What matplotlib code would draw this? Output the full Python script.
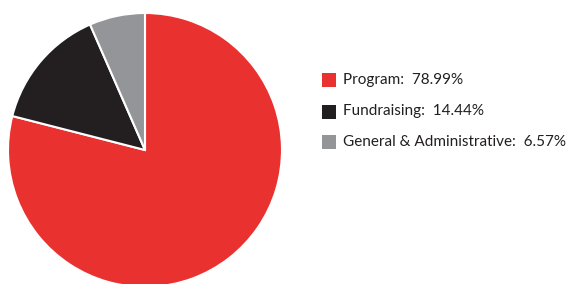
import matplotlib.pyplot as plt
from matplotlib.patches import Rectangle

# Data
labels = ['Program', 'Fundraising', 'General & Administrative']
values = [78.99, 14.44, 6.57]
colors = ['#E93230', '#231F20', '#939598']

W, H = 571, 284
fig = plt.figure(figsize=(W / 100, H / 100), dpi=100)

# pie axes, square in pixels, slightly cut off at the bottom
cx, cy, r = 145, 150, 137
ax = fig.add_axes([(cx - r) / W, (H - cy - r) / H, 2 * r / W, 2 * r / H])
ax.pie(values, colors=colors, startangle=90, counterclock=False, radius=1,
       wedgeprops=dict(edgecolor='white', linewidth=1.5))
ax.set_xlim(-1, 1)
ax.set_ylim(-1, 1)
ax.axis('off')

# legend, drawn by hand
rows = [80, 111.5, 142]
for lab, val, col, yc in zip(labels, values, colors, rows):
    fig.patches.append(Rectangle((322 / W, (H - yc - 7) / H), 14 / W, 14 / H,
                                 transform=fig.transFigure, facecolor=col,
                                 edgecolor='none'))
    fig.text(343 / W, (H - yc) / H, '{}:  {:.2f}%'.format(lab, val),
             fontsize=11, family='Lato', color='#231F20',
             ha='left', va='center')

fig.savefig('out.png', dpi=100)
